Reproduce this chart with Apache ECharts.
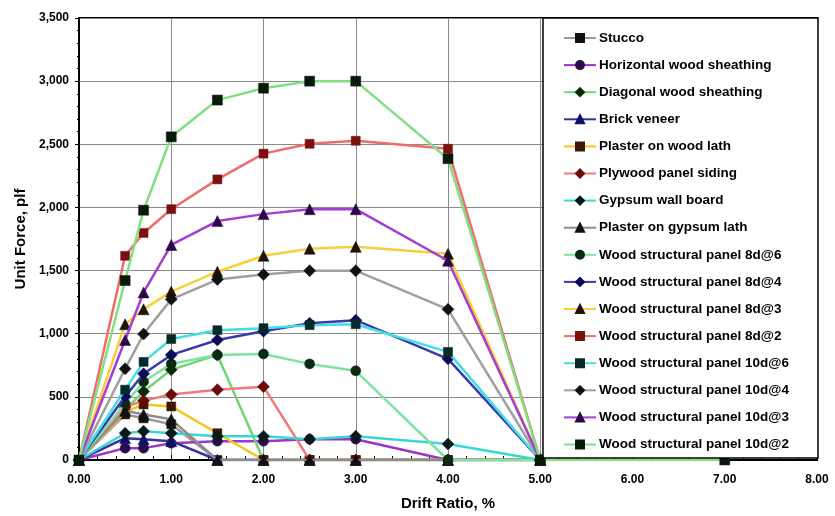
<!DOCTYPE html>
<html>
<head>
<meta charset="utf-8">
<script src="https://cdn.jsdelivr.net/npm/echarts@6/dist/echarts.min.js"></script>
<style>
html,body{margin:0;padding:0;background:#fff;}
#chart{width:835px;height:516px;}
</style>
</head>
<body>
<div id="chart"></div>
<script>
// Drift ratio (%) at which each test value was read
const drift = [0, 0.5, 0.7, 1.0, 1.5, 2.0, 2.5, 3.0, 4.0, 5.0, 7.0];

// Unit force (plf) for each series, aligned to drift; null = no point
const stucco            = [0, 361, 330, 283, 0, 0, 0, 0, 0, 0, null];
const horizontalWood    = [0, 94, 94, 133, 149, 149, 165, 165, 0, 0, null];
const diagonalWood      = [0, 400, 542, 714, 832, 0, 0, 0, 0, 0, null];
const brickVeneer       = [0, 173, 165, 149, 0, 0, 0, 0, 0, 0, null];
const plasterWoodLath   = [0, 380, 440, 424, 212, 0, 0, 0, 0, 0, null];
const plywoodSiding     = [0, 420, 470, 518, 557, 581, 0, 0, 0, 0, null];
const gypsumWallBoard   = [0, 212, 228, 212, 188, 188, 165, 188, 126, 0, null];
const plasterGypsumLath = [0, 390, 361, 322, 0, 0, 0, 0, 0, 0, null];
const wsp8d6            = [0, 447, 620, 761, 832, 840, 761, 706, 0, 0, null];
const wsp8d4            = [0, 502, 683, 832, 950, 1020, 1083, 1107, 801, 0, null];
const wsp8d3            = [0, 1075, 1193, 1334, 1491, 1617, 1672, 1688, 1633, 0, null];
const wsp8d2            = [0, 1617, 1798, 1986, 2222, 2426, 2504, 2528, 2465, 0, null];
const wsp10d6           = [0, 557, 777, 958, 1028, 1044, 1068, 1075, 856, 0, null];
const wsp10d4           = [0, 722, 997, 1272, 1429, 1468, 1499, 1499, 1193, 0, null];
const wsp10d3           = [0, 950, 1327, 1703, 1892, 1947, 1986, 1986, 1578, 0, null];
const wsp10d2           = [0, 1421, 1978, 2559, 2850, 2944, 3000, 3000, 2386, 0, 0];

const seriesNames = [
  'Stucco', 'Horizontal wood sheathing', 'Diagonal wood sheathing', 'Brick veneer',
  'Plaster on wood lath', 'Plywood panel siding', 'Gypsum wall board', 'Plaster on gypsum lath',
  'Wood structural panel 8d@6', 'Wood structural panel 8d@4', 'Wood structural panel 8d@3',
  'Wood structural panel 8d@2', 'Wood structural panel 10d@6', 'Wood structural panel 10d@4',
  'Wood structural panel 10d@3', 'Wood structural panel 10d@2'
];
const seriesValues = [
  stucco, horizontalWood, diagonalWood, brickVeneer, plasterWoodLath, plywoodSiding,
  gypsumWallBoard, plasterGypsumLath, wsp8d6, wsp8d4, wsp8d3, wsp8d2,
  wsp10d6, wsp10d4, wsp10d3, wsp10d2
];

// Styles: [line colour, marker colour, marker shape, marker size]
const styles = [
  ['#9a9a9a', '#111111', 'rect', 9],
  ['#9b35c8', '#2a0d4a', 'circle', 10],
  ['#6fd66f', '#0b2a0b', 'diamond', 12],
  ['#34349c', '#10106a', 'triangle', 11],
  ['#f5c518', '#3a1a05', 'rect', 9],
  ['#f07a7a', '#6a0a0a', 'diamond', 12],
  ['#3ad6d6', '#0a1a1a', 'diamond', 12],
  ['#8c8c8c', '#111111', 'triangle', 11],
  ['#7ee2a0', '#0b2a12', 'circle', 10],
  ['#3a3ab0', '#0a0a55', 'diamond', 12],
  ['#f7cf3a', '#1e1405', 'triangle', 11],
  ['#ee6c6c', '#7a1010', 'rect', 9],
  ['#40e0e0', '#062a2a', 'rect', 9],
  ['#a0a0a0', '#111111', 'diamond', 12],
  ['#a63cd0', '#2a0848', 'triangle', 11],
  ['#80df80', '#0a1a0a', 'rect', 10]
];

const series = seriesNames.map((name, i) => {
  const pts = [];
  seriesValues[i].forEach((v, j) => { if (v !== null) pts.push([drift[j], v]); });
  const st = styles[i];
  return {
    name: name,
    type: 'line',
    data: pts,
    symbol: st[2],
    symbolSize: st[3],
    lineStyle: { color: st[0], width: 2.5 },
    itemStyle: { color: st[1], borderColor: st[1], borderWidth: 0.5 },
    emphasis: { disabled: true },
    z: 2 + i * 0.01
  };
});

const chart = echarts.init(document.getElementById('chart'), null, { renderer: 'canvas' });
const font = 'Liberation Sans, Arial, Helvetica, sans-serif';

chart.setOption({
  animation: false,
  backgroundColor: '#ffffff',
  textStyle: { fontFamily: font },
  grid: {
    left: 79, right: 18, top: 18, bottom: 54,
    show: true, borderColor: '#000', borderWidth: 2, backgroundColor: 'transparent'
  },
  xAxis: {
    type: 'value',
    min: 0, max: 8, interval: 1,
    name: 'Drift Ratio, %',
    nameLocation: 'middle',
    nameGap: 36,
    nameTextStyle: { fontFamily: font, fontWeight: 'bold', fontSize: 15, color: '#000' },
    axisLine: { show: true, onZero: false, lineStyle: { color: '#000', width: 2 } },
    axisTick: { show: true, inside: true, length: 5, lineStyle: { color: '#000', width: 1 } },
    minorTick: { show: true, splitNumber: 5, length: 4, lineStyle: { color: '#000', width: 1 } },
    axisLabel: {
      margin: 14, fontFamily: font, fontWeight: 'bold', fontSize: 12, color: '#000',
      formatter: v => v.toFixed(2)
    },
    splitLine: { show: true, lineStyle: { color: '#8a8a8a', width: 1 } }
  },
  yAxis: {
    type: 'value',
    min: 0, max: 3500, interval: 500,
    name: 'Unit Force, plf',
    nameLocation: 'middle',
    nameGap: 46,
    nameTextStyle: { fontFamily: font, fontWeight: 'bold', fontSize: 15, color: '#000' },
    axisLine: { show: true, lineStyle: { color: '#000', width: 2 } },
    axisTick: { show: true, inside: false, length: 4, lineStyle: { color: '#000', width: 1 } },
    minorTick: { show: true, splitNumber: 5, length: 2, lineStyle: { color: '#000', width: 1 } },
    axisLabel: {
      margin: 10, fontFamily: font, fontWeight: 'bold', fontSize: 12, color: '#000',
      formatter: v => v.toLocaleString('en-US')
    },
    splitLine: { show: true, lineStyle: { color: '#8a8a8a', width: 1 } }
  },
  legend: {
    orient: 'vertical',
    left: 563,
    top: 31,
    itemGap: 13.1,
    itemWidth: 32,
    itemHeight: 10,
    padding: 0,
    z: 10,
    selectedMode: false,
    textStyle: { fontFamily: font, fontWeight: 'bold', fontSize: 13.5, color: '#000', padding: [0, 0, 0, -2] },
    data: seriesNames
  },
  graphic: {
    z: 8,
    elements: [{
      type: 'rect',
      z: 8,
      shape: { x: 543, y: 18, width: 275, height: 440 },
      style: { fill: '#ffffff', stroke: '#000000', lineWidth: 1.5 }
    }]
  },
  series: series
});
</script>
</body>
</html>
